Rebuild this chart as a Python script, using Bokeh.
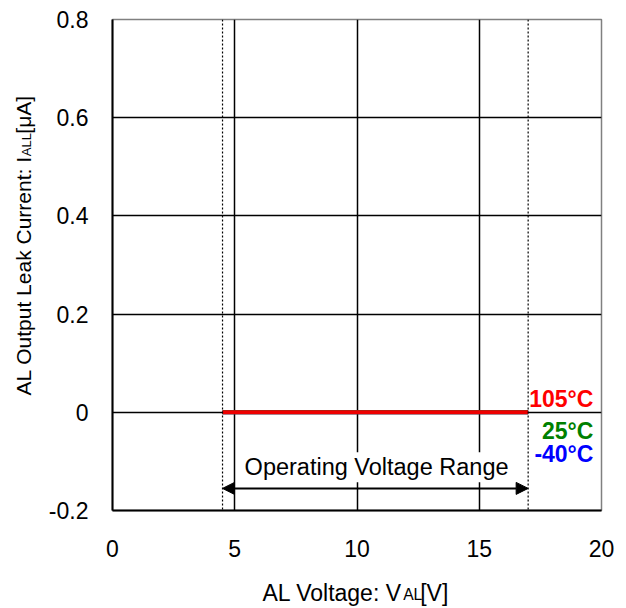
import math
from bokeh.plotting import figure
from bokeh.models import Label, Arrow, NormalHead, FixedTicker, Span
from bokeh.embed import file_html
from bokeh.resources import INLINE

# ---- data ----
x_ticks = [0, 5, 10, 15, 20]
y_ticks = [-0.2, 0, 0.2, 0.4, 0.6, 0.8]
y_tick_labels = ["-0.2", "0", "0.2", "0.4", "0.6", "0.8"]
x_grid = [5, 10, 15]
y_grid = [0, 0.2, 0.4, 0.6]

voltage = [4.5, 17.0]
leak_m40 = [0.0, 0.0]
leak_25 = [0.0, 0.0]
leak_105 = [0.0, 0.0]

range_min = 4.5
range_max = 17.0

FONT = "Liberation Sans"
NB = "\u00a0"

W, H = 626, 608
ML, MR, MT, MB = 112, 25, 19, 98

p = figure(width=W, height=H, x_range=(0, 20), y_range=(-0.2, 0.8),
           output_backend="svg", toolbar_location=None,
           min_border_left=ML, min_border_right=MR,
           min_border_top=MT, min_border_bottom=MB)

p.background_fill_color = "white"
p.border_fill_color = "white"
p.outline_line_color = "#808080"
p.outline_line_width = 1.5

for ax in (p.xaxis[0], p.yaxis[0]):
    ax.axis_line_color = "black"
    ax.axis_line_width = 2
    ax.major_tick_line_color = None
    ax.minor_tick_line_color = None
    ax.major_label_text_font = FONT
    ax.major_label_text_font_size = "23px"
    ax.major_label_text_color = "black"

p.xaxis.ticker = FixedTicker(ticks=x_ticks)
p.yaxis.ticker = FixedTicker(ticks=y_ticks)
p.yaxis.major_label_overrides = {t: l for t, l in zip(y_ticks, y_tick_labels)}
p.xaxis.major_label_overrides = {t: str(t) for t in x_ticks}
p.xaxis.major_label_standoff = 23
p.yaxis.major_label_standoff = 18

p.xgrid.ticker = FixedTicker(ticks=x_grid)
p.ygrid.ticker = FixedTicker(ticks=y_grid)
for g in (p.xgrid[0], p.ygrid[0]):
    g.grid_line_color = "black"
    g.grid_line_width = 1.5
    g.grid_line_alpha = 1.0

for loc in (range_min, range_max):
    p.add_layout(Span(location=loc, dimension="height", line_color="black",
                      line_width=1.2, line_dash="2 2"))

p.line(voltage, leak_m40, line_color="#0000ff", line_width=4)
p.line(voltage, leak_25, line_color="#008000", line_width=4)
p.line(voltage, leak_105, line_color="#ee0000", line_width=4)

p.add_layout(Label(x=10.8, y=-0.112, text="Operating Voltage Range",
                   text_align="center", text_baseline="middle",
                   text_font=FONT, text_font_size="23.5px", text_color="black",
                   background_fill_color="white", background_fill_alpha=1.0,
                   padding=2))
p.add_layout(Arrow(start=NormalHead(size=12, fill_color="black", line_color="black"),
                   end=NormalHead(size=12, fill_color="black", line_color="black"),
                   x_start=range_min, y_start=-0.155, x_end=range_max, y_end=-0.155,
                   line_color="black", line_width=2))

temps = [("105°C", "#ff0000", 0.027), ("25°C", "#008000", -0.038), ("-40°C", "#0000ff", -0.084)]
for txt, col, yy in temps:
    p.add_layout(Label(x=19.67, y=yy, text=txt, text_align="right",
                       text_baseline="middle", text_font=FONT,
                       text_font_size="23px", text_font_style="bold", text_color=col))

# x axis title: "AL Voltage: V" + small "AL" + "[V]"
FX, SX = 23, 15.7
x_main = "AL Voltage: V" + NB * 3 + "[V]"
p.add_layout(Label(x=150, y=-7, x_units="screen", y_units="screen", text=x_main,
                   text_align="left", text_baseline="middle",
                   text_font=FONT, text_font_size=f"{FX}px", text_color="black"), "below")
p.add_layout(Label(x=150 + 6.115 * FX, y=7.6, x_units="screen", y_units="screen", text="AL",
                   text_align="left", text_baseline="middle",
                   text_font=FONT, text_font_size=f"{SX}px", text_color="black"), "below")

# y axis title: "AL Output Leak Current: I" + small "ALL" + "[μA]"
FY, SY = 21, 13.1
y_main = "AL Output Leak Current: I" + NB * 4 + "[μA]"
p.add_layout(Label(x=1, y=115, x_units="screen", y_units="screen", text=y_main,
                   angle=math.pi / 2, text_align="left", text_baseline="middle",
                   text_font=FONT, text_font_size=f"{FY}px", text_color="black"), "left")
p.add_layout(Label(x=19.3, y=115 + 11.395 * FY, x_units="screen", y_units="screen", text="ALL",
                   angle=math.pi / 2, text_align="left", text_baseline="middle",
                   text_font=FONT, text_font_size=f"{SY}px", text_color="black"), "left")

open("out.html", "w").write(file_html(p, INLINE))
